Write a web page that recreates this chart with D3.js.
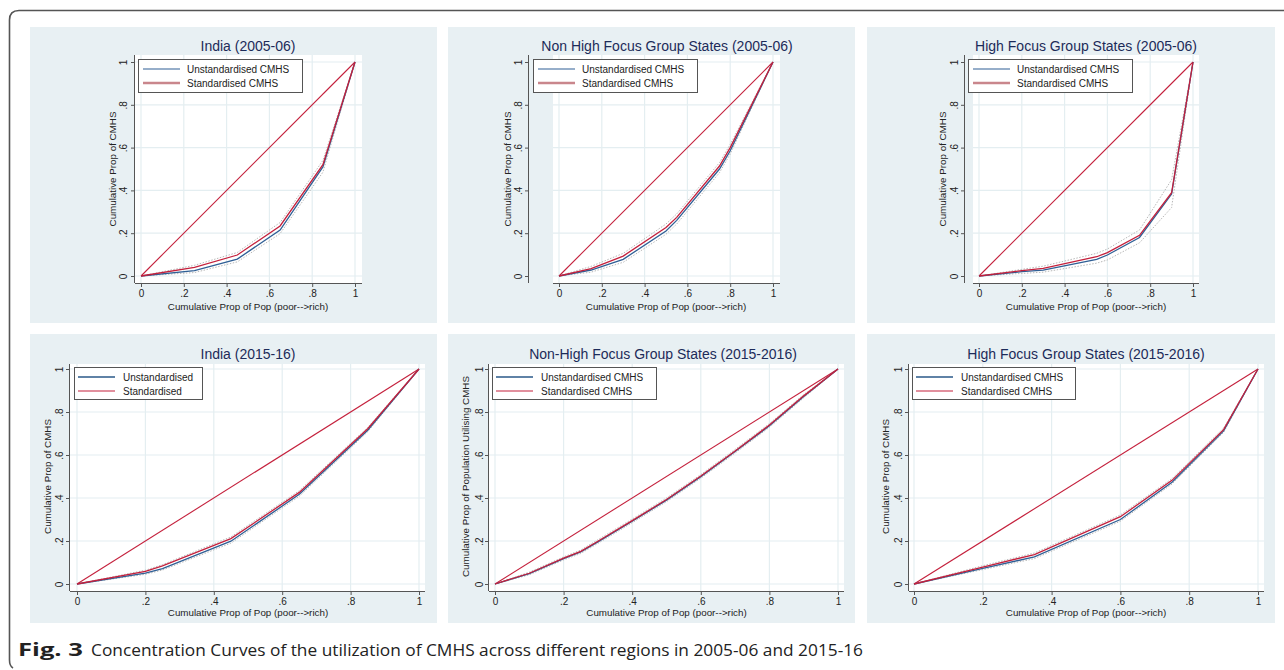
<!DOCTYPE html>
<html>
<head>
<meta charset="utf-8">
<script src="https://cdn.jsdelivr.net/npm/d3@7"></script>
<style>
  body { margin: 0; background: #fff; }
  svg { display: block; font-family: "Liberation Sans", Arial, sans-serif; }
</style>
</head>
<body>
<svg id="fig" width="1284" height="670"></svg>
<script>
// Panel titles and labels
const titles = [
  "India (2005-06)", "Non High Focus Group States (2005-06)", "High Focus Group States (2005-06)",
  "India (2015-16)", "Non-High Focus Group States (2015-2016)", "High Focus Group States (2015-2016)"
];
const yTitles = [
  "Cumulative Prop of CMHS", "Cumulative Prop of CMHS", "Cumulative Prop of CMHS",
  "Cumulative Prop of CMHS", "Cumulative Prop of Population Utilising CMHS", "Cumulative Prop of CMHS"
];
const legendLabels = [
  ["Unstandardised CMHS", "Standardised CMHS"],
  ["Unstandardised CMHS", "Standardised CMHS"],
  ["Unstandardised CMHS", "Standardised CMHS"],
  ["Unstandardised", "Standardised"],
  ["Unstandardised CMHS", "Standardised CMHS"],
  ["Unstandardised CMHS", "Standardised CMHS"]
];
const xTitle = "Cumulative Prop of Pop (poor-->rich)";
const tickValues = [0, 0.2, 0.4, 0.6, 0.8, 1];
const tickLabels = ["0", ".2", ".4", ".6", ".8", "1"];

// India 2005-06
const india05X     = [0, 0.25, 0.45, 0.65, 0.85, 1];
const india05Unstd = [0, 0.025, 0.079, 0.215, 0.51, 1];
const india05Std   = [0, 0.04, 0.098, 0.234, 0.52, 1];
const india05Lo    = [0, 0.016, 0.066, 0.198, 0.485, 1];
const india05Hi    = [0, 0.05, 0.11, 0.25, 0.54, 1];

// Non high focus 2005-06
const nonHigh05X     = [0, 0.15, 0.3, 0.5, 0.55, 0.75, 0.8, 1];
const nonHigh05Unstd = [0, 0.028, 0.078, 0.21, 0.26, 0.50, 0.585, 1];
const nonHigh05Std   = [0, 0.035, 0.093, 0.227, 0.274, 0.514, 0.60, 1];
const nonHigh05Lo    = [0, 0.018, 0.064, 0.195, 0.243, 0.483, 0.57, 1];
const nonHigh05Hi    = [0, 0.045, 0.106, 0.243, 0.29, 0.53, 0.615, 1];

// High focus 2005-06
const high05X     = [0, 0.2, 0.3, 0.55, 0.6, 0.75, 0.9, 1];
const high05Unstd = [0, 0.02, 0.027, 0.078, 0.098, 0.18, 0.383, 1];
const high05Std   = [0, 0.025, 0.036, 0.09, 0.109, 0.19, 0.389, 1];
const high05Lo    = [0, 0.012, 0.018, 0.06, 0.075, 0.155, 0.32, 1];
const high05Hi    = [0, 0.031, 0.046, 0.106, 0.126, 0.215, 0.45, 1];

// India 2015-16
const india15X     = [0, 0.2, 0.25, 0.45, 0.65, 0.85, 1];
const india15Unstd = [0, 0.051, 0.072, 0.199, 0.417, 0.715, 1];
const india15Std   = [0, 0.059, 0.084, 0.211, 0.426, 0.722, 1];
const india15Lo    = [0, 0.045, 0.065, 0.19, 0.408, 0.708, 1];
const india15Hi    = [0, 0.064, 0.09, 0.219, 0.434, 0.728, 1];

// Non high focus 2015-16
const nonHigh15X     = [0, 0.1, 0.2, 0.25, 0.3, 0.4, 0.5, 0.6, 0.7, 0.8, 0.9, 1];
const nonHigh15Unstd = [0, 0.048, 0.118, 0.149, 0.196, 0.292, 0.39, 0.499, 0.616, 0.736, 0.872, 1];
const nonHigh15Std   = [0, 0.05, 0.12, 0.152, 0.199, 0.295, 0.393, 0.502, 0.619, 0.739, 0.875, 1];
const nonHigh15Lo    = [0, 0.043, 0.112, 0.142, 0.189, 0.285, 0.383, 0.492, 0.609, 0.729, 0.866, 1];
const nonHigh15Hi    = [0, 0.055, 0.126, 0.158, 0.206, 0.302, 0.4, 0.509, 0.626, 0.746, 0.881, 1];

// High focus 2015-16
const high15X     = [0, 0.2, 0.35, 0.6, 0.75, 0.9, 1];
const high15Unstd = [0, 0.073, 0.126, 0.30, 0.473, 0.712, 1];
const high15Std   = [0, 0.079, 0.137, 0.313, 0.482, 0.718, 1];
const high15Lo    = [0, 0.067, 0.118, 0.292, 0.465, 0.705, 1];
const high15Hi    = [0, 0.085, 0.144, 0.321, 0.49, 0.725, 1];

const series = [
  [india05X, india05Unstd, india05Std, india05Lo, india05Hi],
  [nonHigh05X, nonHigh05Unstd, nonHigh05Std, nonHigh05Lo, nonHigh05Hi],
  [high05X, high05Unstd, high05Std, high05Lo, high05Hi],
  [india15X, india15Unstd, india15Std, india15Lo, india15Hi],
  [nonHigh15X, nonHigh15Unstd, nonHigh15Std, nonHigh15Lo, nonHigh15Hi],
  [high15X, high15Unstd, high15Std, high15Lo, high15Hi]
];

// Layout of each panel (pixels)
const topRow = { bgY: 27, bgH: 296, wTop: 55, wBot: 283, yr: [276, 62], titleY: 46, xtY: 293, xtitleY: 306,
                 legY: 59, legH: 33, legRows: [69, 83], lineOff: [5, 42], textOff: 49 };
const botRow = { bgY: 334, bgH: 289, wTop: 364, wBot: 591, yr: [584, 369], titleY: 354, xtY: 601, xtitleY: 612,
                 legY: 367, legH: 32, legRows: [377, 391], lineOff: [4, 41], textOff: 49 };
const layout = [
  { row: topRow, bgX: 30,  bgW: 407, wL: 135, wR: 362,  xr: [141, 355],  axX: 135, titleX: 248,  ytX: 123, ytitleX: 112, legX: 138, legW: 164 },
  { row: topRow, bgX: 448, bgW: 407, wL: 553, wR: 780,  xr: [559, 773],  axX: 529, titleX: 667,  ytX: 518, ytitleX: 507, legX: 533, legW: 164 },
  { row: topRow, bgX: 867, bgW: 408, wL: 973, wR: 1199, xr: [979, 1193], axX: 965, titleX: 1086, ytX: 954, ytitleX: 942, legX: 968, legW: 164 },
  { row: botRow, bgX: 30,  bgW: 407, wL: 70,  wR: 425,  xr: [77, 419],   axX: 70,  titleX: 248,  ytX: 59,  ytitleX: 47,  legX: 74,  legW: 128 },
  { row: botRow, bgX: 448, bgW: 407, wL: 489, wR: 844,  xr: [495, 838],  axX: 489, titleX: 663,  ytX: 479, ytitleX: 465, legX: 492, legW: 164 },
  { row: botRow, bgX: 867, bgW: 408, wL: 909, wR: 1264, xr: [914, 1258], axX: 909, titleX: 1086, ytX: 898, ytitleX: 885, legX: 912, legW: 163 }
];

const blue = "#2f5f95";
const red = "#c4203c";
const svg = d3.select("#fig");

// outer frame (top and left edges)
svg.append("path")
  .attr("d", "M1284,10.5 L19,10.5 Q9.5,10.5 9.5,20 L9.5,660 Q9.5,666 13,668")
  .attr("fill", "none").attr("stroke", "#555").attr("stroke-width", 1.6);

layout.forEach((L, i) => {
  const R = L.row;
  const [xs, unstd, std, lo, hi] = series[i];
  const g = svg.append("g");

  g.append("rect").attr("x", L.bgX).attr("y", R.bgY).attr("width", L.bgW).attr("height", R.bgH).attr("fill", "#e8f0f3");
  g.append("rect").attr("x", L.wL).attr("y", R.wTop).attr("width", L.wR - L.wL).attr("height", R.wBot - R.wTop).attr("fill", "#fff");

  const x = d3.scaleLinear().domain([0, 1]).range(L.xr);
  const y = d3.scaleLinear().domain([0, 1]).range(R.yr);

  // grid
  g.append("g").selectAll("line").data(tickValues).join("line")
    .attr("x1", d => x(d)).attr("x2", d => x(d)).attr("y1", R.wTop).attr("y2", R.wBot)
    .attr("stroke", "#e4eef1").attr("stroke-width", 1.2);
  g.append("g").selectAll("line").data(tickValues).join("line")
    .attr("y1", d => y(d)).attr("y2", d => y(d)).attr("x1", L.wL).attr("x2", L.wR)
    .attr("stroke", "#e4eef1").attr("stroke-width", 1.2);

  // axes
  const xAxis = g.append("g").attr("transform", `translate(0,${R.wBot})`)
    .call(d3.axisBottom(x).tickValues(tickValues).tickFormat((d, k) => tickLabels[k]).tickSize(4).tickSizeOuter(0));
  xAxis.select(".domain").attr("d", `M${L.wL},0.5H${L.wR}`).attr("stroke", "#555");
  xAxis.selectAll(".tick line").attr("stroke", "#555");
  xAxis.selectAll(".tick text").attr("y", R.xtY - R.wBot).attr("dy", "0.35em")
    .attr("font-size", 10).attr("fill", "#222").attr("font-family", "Liberation Sans, Arial, sans-serif");

  const yAxis = g.append("g").attr("transform", `translate(${L.axX},0)`)
    .call(d3.axisLeft(y).tickValues(tickValues).tickFormat((d, k) => tickLabels[k]).tickSize(4).tickSizeOuter(0));
  yAxis.select(".domain").attr("d", `M-0.5,${R.wTop}V${R.wBot}`).attr("stroke", "#555");
  yAxis.selectAll(".tick line").attr("stroke", "#555");
  yAxis.selectAll(".tick text")
    .attr("x", null).attr("dy", null)
    .attr("transform", `translate(${L.ytX - L.axX},0) rotate(-90)`)
    .attr("text-anchor", "middle").attr("dominant-baseline", "central")
    .attr("font-size", 10).attr("fill", "#222").attr("font-family", "Liberation Sans, Arial, sans-serif");

  // axis titles
  g.append("text").attr("x", (L.xr[0] + L.xr[1]) / 2).attr("y", R.xtitleY)
    .attr("text-anchor", "middle").attr("dominant-baseline", "central")
    .attr("font-size", 9.8).attr("fill", "#222").text(xTitle);
  g.append("text")
    .attr("transform", `translate(${L.ytitleX},${(R.yr[0] + R.yr[1]) / 2}) rotate(-90)`)
    .attr("text-anchor", "middle").attr("dominant-baseline", "central")
    .attr("font-size", 9.8).attr("fill", "#222").text(yTitles[i]);

  // title
  g.append("text").attr("x", L.titleX).attr("y", R.titleY)
    .attr("text-anchor", "middle").attr("dominant-baseline", "central")
    .attr("font-size", 14).attr("fill", "#1c2b59").text(titles[i]);

  // curves
  const pts = vals => xs.map((v, k) => [v, vals[k]]);
  const line = d3.line().x(d => x(d[0])).y(d => y(d[1]));
  [lo, hi].forEach(v => {
    g.append("path").attr("d", line(pts(v))).attr("fill", "none")
      .attr("stroke", "#b8b8b8").attr("stroke-width", 1).attr("stroke-dasharray", "1.5,1.5");
  });
  g.append("path").attr("d", line([[0, 0], [1, 1]])).attr("fill", "none")
    .attr("stroke", red).attr("stroke-width", 1.1);
  g.append("path").attr("d", line(pts(unstd))).attr("fill", "none")
    .attr("stroke", blue).attr("stroke-width", 1.3);
  g.append("path").attr("d", line(pts(std))).attr("fill", "none")
    .attr("stroke", red).attr("stroke-width", 1.3);

  // legend
  const leg = g.append("g");
  leg.append("rect").attr("x", L.legX + 0.5).attr("y", R.legY + 0.5).attr("width", L.legW).attr("height", R.legH)
    .attr("fill", "#fff").attr("stroke", "#555").attr("stroke-width", 1);
  const isTop = R === topRow;
  const legStyle = isTop
    ? [{ c: blue, w: 1.2 }, { c: "#c9868c", w: 2.4 }]
    : [{ c: "#5f82a6", w: 2.2 }, { c: red, w: 1.2 }];
  legendLabels[i].forEach((lab, k) => {
    leg.append("line").attr("x1", L.legX + R.lineOff[0]).attr("x2", L.legX + R.lineOff[1])
      .attr("y1", R.legRows[k]).attr("y2", R.legRows[k])
      .attr("stroke", legStyle[k].c).attr("stroke-width", legStyle[k].w);
    leg.append("text").attr("x", L.legX + R.textOff).attr("y", R.legRows[k])
      .attr("dominant-baseline", "central").attr("font-size", 10).attr("fill", "#222").text(lab);
  });
});

// caption
const cap = svg.append("text").attr("y", 656).attr("font-size", 17).attr("font-family", "'Open Sans', 'Noto Sans', sans-serif").attr("fill", "#222");
cap.append("tspan").attr("x", 18).attr("font-weight", "bold").attr("textLength", 65).attr("lengthAdjust", "spacingAndGlyphs").text("Fig. 3");
cap.append("tspan").attr("x", 91).attr("textLength", 772).attr("lengthAdjust", "spacingAndGlyphs")
  .text("Concentration Curves of the utilization of CMHS across different regions in 2005-06 and 2015-16");
</script>
</body>
</html>
